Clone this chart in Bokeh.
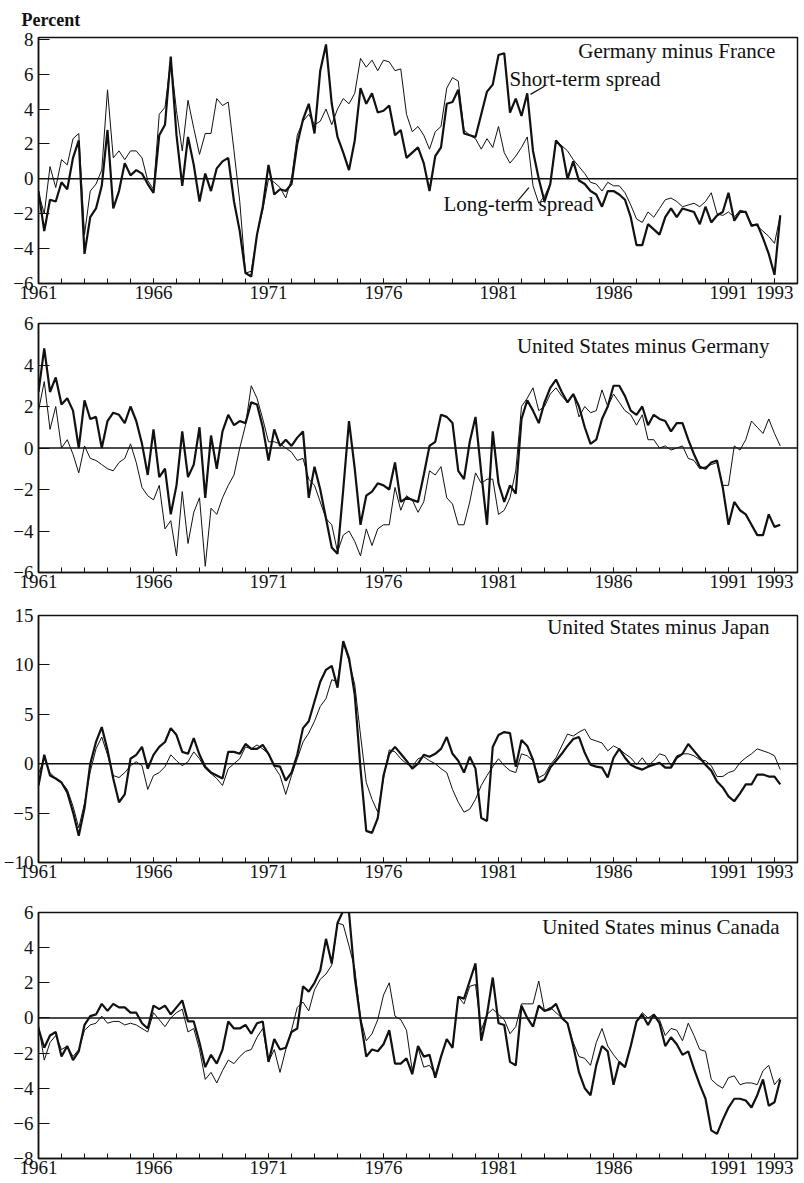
from bokeh.plotting import figure
from bokeh.models import Range1d, FixedTicker, Span, Label
from bokeh.layouts import column
from bokeh.embed import file_html
from bokeh.resources import INLINE

# ---------------- data (quarterly, 1961Q1 .. 1993Q2) ----------------
START_YEAR = 1961
N_QUARTERS = 130
quarters = [START_YEAR + i / 4 for i in range(N_QUARTERS)]

year_ticks = list(range(1961, 1994))
label_years = [1961, 1966, 1971, 1976, 1981, 1986, 1991, 1993]

panel_titles = ["Germany minus France", "United States minus Germany",
                "United States minus Japan", "United States minus Canada"]

ger_fra_short = [
    -0.7, -3.0, -1.2, -1.3, -0.2, -0.6, 1.2, 2.2, -4.3, -2.2,
    -1.7, -0.4, 2.8, -1.7, -0.7, 0.9, 0.2, 0.5, 0.3, -0.3,
    -0.8, 2.5, 3.1, 7.0, 2.5, -0.4, 2.4, 0.8, -1.3, 0.3,
    -0.7, 0.6, 1.0, 1.2, -1.3, -3.0, -5.4, -5.6, -3.2, -1.6,
    0.8, -0.9, -0.6, -0.7, -0.3, 2.0, 3.4, 4.3, 2.6, 6.2,
    7.7, 4.3, 2.4, 1.5, 0.5, 2.2, 5.2, 4.3, 4.9, 3.8,
    3.9, 4.2, 2.5, 2.8, 1.2, 1.5, 1.8, 0.9, -0.7, 1.3,
    1.8, 4.3, 4.4, 5.1, 2.6, 2.5, 2.4, 3.7, 5.0, 5.4,
    7.1, 7.2, 3.8, 4.6, 3.6, 4.9, 1.6, 0.0, -1.3, -0.3,
    2.2, 1.8, 0.0, 1.0, -0.1, -0.3, -0.7, -0.9, -1.6, -0.7,
    -0.7, -0.9, -1.2, -2.2, -3.8, -3.8, -2.6, -2.9, -3.2, -2.2,
    -1.7, -2.2, -1.7, -1.8, -1.9, -2.6, -1.6, -2.5, -2.1, -1.9,
    -0.8, -2.4, -1.9, -1.9, -2.7, -2.6, -3.4, -4.3, -5.5, -2.1,
]
ger_fra_long = [
    -0.8, -2.0, 0.7, -0.5, 1.1, 0.8, 2.3, 2.6, -3.2, -0.7,
    -0.3, 0.5, 5.1, 1.2, 1.6, 1.1, 1.6, 1.6, 1.2, -0.1,
    -0.6, 3.7, 4.1, 6.8, 3.9, 1.6, 4.5, 2.9, 1.4, 2.6,
    2.6, 4.6, 4.2, 4.4, 1.6, -1.3, -5.4, -5.3, -3.2, -1.8,
    0.0, -0.2, -0.5, -1.1, 0.0, 2.5, 3.3, 3.7, 3.1, 3.3,
    4.0, 3.1, 4.0, 4.6, 4.3, 4.9, 6.9, 6.4, 6.8, 6.2,
    6.8, 6.7, 6.2, 6.3, 3.7, 2.7, 3.0, 2.5, 1.7, 2.7,
    3.0, 5.2, 5.8, 5.6, 2.8, 2.5, 2.3, 1.7, 2.3, 1.8,
    3.0, 1.5, 0.9, 1.3, 1.8, 2.4, -0.4, -1.4, -1.0, -0.3,
    2.2, 1.9, 1.6, 1.1, 0.7, 0.3, -0.2, -0.3, -0.7, -0.2,
    -0.4, -0.4, -0.8, -1.5, -2.3, -2.5, -1.9, -2.2, -1.7, -1.2,
    -1.1, -1.3, -1.6, -1.5, -1.4, -1.6, -1.3, -0.8, -2.0, -2.1,
    -1.9, -2.2, -1.8, -1.9, -2.6, -2.7, -3.0, -3.3, -3.7, -2.1,
]

us_ger_short = [
    2.7, 4.8, 2.7, 3.4, 2.1, 2.4, 1.8, 0.0, 2.3, 1.4,
    1.5, 0.0, 1.3, 1.7, 1.6, 1.2, 2.0, 1.3, 0.2, -1.3,
    0.9, -1.4, -1.0, -3.2, -1.8, 0.8, -1.4, -0.8, 1.0, -2.4,
    0.6, -1.0, 0.8, 1.6, 1.1, 1.3, 1.2, 2.2, 2.1, 1.0,
    -0.6, 0.9, 0.1, 0.4, 0.1, 0.5, 0.8, -2.4, -0.9, -2.0,
    -3.4, -4.8, -5.1, -2.0, 1.3, -1.0, -3.7, -2.3, -2.1, -1.7,
    -1.8, -2.0, -0.7, -2.6, -2.4, -2.5, -2.6, -1.3, 0.1, 0.3,
    1.6, 1.5, 1.2, -1.1, -1.5, 0.3, 1.5, -1.2, -3.7, 0.8,
    -1.7, -2.6, -1.8, -2.2, 1.4, 2.3, 1.8, 1.2, 2.2, 2.9,
    3.3, 2.7, 2.2, 2.6, 2.0, 1.0, 0.2, 0.4, 1.4, 2.0,
    3.0, 3.0, 2.5, 1.8, 1.6, 2.0, 1.1, 1.6, 1.4, 1.3,
    0.8, 1.2, 1.2, 0.4, -0.3, -0.9, -1.0, -0.7, -0.6, -1.9,
    -3.7, -2.6, -3.0, -3.2, -3.7, -4.2, -4.2, -3.2, -3.8, -3.7,
]
us_ger_long = [
    1.8, 3.2, 0.9, 2.0, 0.0, 0.4, -0.3, -1.2, 0.1, -0.5,
    -0.6, -0.8, -1.0, -1.1, -0.7, -0.5, 0.2, -0.7, -1.9, -2.3,
    -2.5, -1.8, -3.9, -3.5, -5.2, -2.1, -4.6, -3.1, -2.4, -5.7,
    -2.9, -3.2, -2.4, -1.8, -1.3, 0.0, 1.1, 3.0, 2.4, 1.4,
    0.3, 0.3, 0.2, 0.0, -0.2, -0.6, -0.5, -1.5, -1.8, -2.6,
    -3.4, -3.7, -5.0, -4.2, -4.0, -4.5, -5.2, -3.9, -4.7, -3.9,
    -3.7, -3.7, -1.9, -3.0, -2.3, -2.5, -3.1, -2.6, -1.1, -1.3,
    -0.9, -2.4, -2.7, -3.7, -3.7, -2.6, -1.2, -1.7, -1.5, -1.5,
    -3.2, -3.0, -2.4, -1.1, 2.0, 2.4, 2.9, 1.8, 2.0, 2.6,
    2.9, 2.5, 2.2, 2.6, 1.5, 2.0, 1.7, 1.8, 2.8, 2.0,
    2.6, 2.2, 1.8, 1.6, 1.1, 1.6, 0.4, 0.4, 0.0, 0.1,
    -0.1, 0.0, 0.1, -0.5, -0.6, -1.0, -0.9, -0.8, -0.7, -1.8,
    -1.8, 0.1, -0.1, 0.4, 1.3, 1.0, 0.7, 1.4, 0.7, 0.1,
]

us_jap_short = [
    -2.2, 0.9, -1.2, -1.5, -1.9, -2.9, -4.9, -7.3, -4.5, 0.0,
    2.2, 3.7, 1.4, -1.5, -3.9, -3.1, 0.5, 0.9, 1.7, -0.5,
    0.9, 1.7, 2.2, 3.6, 2.9, 1.2, 1.0, 2.6, 0.9, -0.3,
    -0.9, -1.2, -1.5, 1.2, 1.2, 1.0, 2.0, 1.5, 1.5, 1.9,
    1.0, -0.2, -0.3, -1.7, -0.9, 0.9, 3.6, 4.3, 6.3, 8.3,
    9.5, 9.9, 7.7, 12.4, 10.7, 7.0, -0.5, -6.8, -7.0, -5.5,
    -1.2, 1.0, 1.7, 1.0, 0.3, -0.5, 0.0, 0.9, 0.7, 1.0,
    1.5, 2.7, 1.0, 0.3, -0.9, 0.7, -0.5, -5.5, -5.8, 1.7,
    2.9, 3.2, 3.1, -0.3, 2.4, 1.8, 0.4, -1.9, -1.6, -0.4,
    0.3, 1.0, 1.8, 2.5, 2.7, 1.1, -0.1, -0.3, -0.4, -1.4,
    0.6, 1.5, 0.6, -0.1, -0.4, -0.6, -0.3, -0.1, 0.1, -0.4,
    -0.4, 0.6, 1.0, 2.0, 1.3, 0.6, -0.1, -0.7, -1.8, -2.4,
    -3.3, -3.8, -3.0, -2.1, -2.1, -1.1, -1.1, -1.3, -1.3, -2.1,
]
us_jap_long = [
    -1.0, 0.5, -0.9, -1.5, -1.9, -2.6, -4.3, -6.5, -4.0, -0.8,
    1.5, 2.7, 0.9, -1.2, -1.4, -0.9, -0.2, 0.2, -0.2, -2.6,
    -1.2, -0.9, -0.3, 0.9, 0.3, -0.2, 0.2, 1.2, 0.5, -0.5,
    -1.0, -1.5, -2.2, -0.5, 0.0, 0.5, 1.7, 1.5, 1.9, 1.5,
    1.0, -0.3, -1.2, -3.1, -1.2, 0.5, 2.2, 3.1, 4.3, 5.8,
    6.6, 8.5, 8.3, 12.2, 10.4, 8.0, 2.9, -1.9, -3.6, -4.9,
    -1.5, 1.4, 1.2, 0.5, 0.0, -0.3, 0.5, 0.7, 0.3, 0.0,
    -0.5, -0.9, -2.6, -3.9, -4.9, -4.6, -3.6, -2.2, -1.2, -0.3,
    0.5, -0.2, -0.7, -0.9, 1.0, 0.8, 0.3, -1.4, -1.1, -0.1,
    0.6, 1.8, 3.0, 2.8, 3.2, 3.5, 2.5, 2.3, 2.1, 1.3,
    1.8, 1.5, 1.0, 0.6, -0.1, 0.6, -0.2, 0.3, 1.0, 0.8,
    -0.2, 0.8, 1.0, 1.0, 0.8, 0.4, 0.3, -0.2, -1.3, -1.3,
    -0.9, -0.7, 0.1, 0.6, 1.0, 1.5, 1.3, 1.1, 0.8, -0.6,
]

us_can_short = [
    -0.6, -1.7, -1.0, -0.8, -2.2, -1.6, -2.4, -1.9, -0.4, 0.1,
    0.2, 0.8, 0.4, 0.8, 0.6, 0.6, 0.3, 0.3, -0.3, -0.6,
    0.7, 0.5, 0.7, 0.2, 0.6, 1.0, -0.2, -0.2, -1.4, -2.8,
    -2.1, -2.6, -1.8, -0.2, -0.6, -0.6, -0.4, -0.9, -0.3, -0.2,
    -2.5, -1.2, -1.8, -1.7, -0.8, -0.6, 1.8, 1.5, 2.0, 2.7,
    4.5, 3.1, 5.4, 6.1, 6.0, 2.3, -0.1, -2.2, -1.8, -1.9,
    -1.5, -0.7, -2.6, -2.6, -2.3, -3.2, -1.6, -2.2, -2.1, -3.4,
    -2.2, -1.2, -1.7, 1.2, 1.1, 2.1, 3.1, -1.3, 0.2, 2.3,
    -0.3, -0.4, -2.5, -2.7, 0.7, 0.0, -0.5, 0.7, 0.4, 0.5,
    0.8, 0.0, -0.3, -1.6, -3.1, -4.0, -4.4, -2.7, -1.6, -1.9,
    -3.8, -2.5, -2.8, -1.6, -0.2, 0.2, -0.4, 0.2, -0.3, -1.6,
    -1.1, -1.5, -2.1, -1.9, -2.9, -3.8, -4.6, -6.4, -6.6, -5.8,
    -5.1, -4.6, -4.6, -4.7, -5.1, -4.4, -3.5, -5.0, -4.8, -3.5,
]
us_can_long = [
    -0.4, -2.4, -1.4, -1.0, -1.8, -1.6, -2.2, -1.8, -0.7, -0.4,
    -0.3, 0.1, -0.3, -0.2, -0.2, -0.4, -0.3, -0.4, -0.6, -0.8,
    0.3, -0.1, -0.5, 0.0, 0.3, 0.5, -0.8, -0.6, -1.8, -3.5,
    -3.1, -3.7, -3.0, -2.4, -2.6, -2.2, -1.9, -1.8, -1.1, -0.6,
    -2.5, -1.8, -3.1, -1.8, -0.7, 0.6, 0.9, 0.4, 1.6, 2.2,
    2.5, 3.0, 5.4, 5.3, 4.1, 2.8, 0.0, -1.3, -0.9, -0.1,
    1.3, 2.0, 0.1, -0.1, -0.7, -3.0, -1.7, -2.8, -2.7, -3.2,
    -2.2, -1.2, -1.7, 1.2, 0.8, 1.8, 1.9, -0.7, 0.2, 0.5,
    0.2, -0.1, -0.9, -0.5, 0.8, 0.8, 0.8, 2.1, 0.4, 0.6,
    0.3, 0.0, -0.3, -1.4, -2.2, -2.3, -2.7, -1.4, -0.6, -1.6,
    -2.1, -2.5, -2.8, -1.6, -0.2, 0.3, 0.0, 0.2, -0.1, -1.0,
    -0.6, -0.7, -1.3, -0.3, -1.0, -1.8, -1.9, -3.5, -3.8, -4.0,
    -3.4, -3.3, -3.8, -3.7, -3.7, -3.8, -3.0, -2.7, -3.8, -3.4,
]

# ---------------- styling ----------------
FONT = "Liberation Serif"
INK = "#111111"


def make_panel(short, long_, title_text, y0, y1, yticks, height, b_top, b_bottom,
               tx, ty, head=None):
    p = figure(width=804, height=height,
               x_range=Range1d(1961, 1994), y_range=Range1d(y0, y1),
               output_backend="svg", toolbar_location=None,
               min_border_left=38, min_border_right=7,
               min_border_top=b_top, min_border_bottom=b_bottom,
               title=head)
    p.background_fill_color = "white"
    p.border_fill_color = "white"
    p.outline_line_color = INK
    p.outline_line_width = 1.5
    p.outline_line_alpha = 1.0
    p.xgrid.visible = False
    p.ygrid.visible = False

    xa = p.xaxis[0]
    xa.ticker = FixedTicker(ticks=label_years, minor_ticks=year_ticks)
    xa.major_tick_in = 5
    xa.major_tick_out = 0
    xa.minor_tick_in = 5
    xa.minor_tick_out = 0
    xa.major_tick_line_color = INK
    xa.minor_tick_line_color = INK
    xa.axis_line_color = INK
    xa.axis_line_width = 1.5
    xa.major_label_text_font = FONT
    xa.major_label_text_font_size = "19px"
    xa.major_label_text_color = INK
    xa.major_label_standoff = 2

    ya = p.yaxis[0]
    ya.ticker = FixedTicker(ticks=yticks, minor_ticks=[])
    ya.major_tick_in = 11
    ya.major_tick_out = 0
    ya.major_tick_line_color = INK
    ya.axis_line_color = INK
    ya.axis_line_width = 1.5
    ya.major_label_text_font = FONT
    ya.major_label_text_font_size = "19px"
    ya.major_label_text_color = INK
    ya.major_label_standoff = 5

    p.add_layout(Span(location=0, dimension="width", line_color=INK, line_width=1.5))
    p.line(quarters, long_, line_color=INK, line_width=1.0)
    p.line(quarters, short, line_color=INK, line_width=2.2)

    p.add_layout(Label(x=tx, y=ty, text=title_text, text_align="right",
                       text_baseline="middle", text_font=FONT,
                       text_font_size="21px", text_color=INK))
    return p


p1 = make_panel(ger_fra_short, ger_fra_long, panel_titles[0], -6, 8.1,
                [-6, -4, -2, 0, 2, 4, 6, 8], 310, 36, 27, 1993.04, 7.35, head="Percent")
p1.title.align = "left"
p1.title.offset = -17
p1.title.standoff = 15
p1.title.text_font = FONT
p1.title.text_font_size = "18px"
p1.title.text_font_style = "bold"
p1.title.text_color = INK

p1.add_layout(Label(x=1981.48, y=5.71, text="Short-term spread", text_align="left",
                    text_baseline="middle", text_font=FONT, text_font_size="21px",
                    text_color=INK))
p1.add_layout(Label(x=1978.61, y=-1.43, text="Long-term spread", text_align="left",
                    text_baseline="middle", text_font=FONT, text_font_size="21px",
                    text_color=INK))
p1.segment(x0=[1982.39, 1981.78], y0=[4.84, -1.35], x1=[1983.0, 1982.32],
           y1=[5.31, -0.50], line_color=INK, line_width=1.2)

p2 = make_panel(us_ger_short, us_ger_long, panel_titles[1], -6, 6,
                [-6, -4, -2, 0, 2, 4, 6], 290, 13, 28, 1992.78, 4.9)
p3 = make_panel(us_jap_short, us_jap_long, panel_titles[2], -10, 15,
                [-10, -5, 0, 5, 10, 15], 290, 15, 28, 1992.78, 13.8)
p4 = make_panel(us_can_short, us_can_long, panel_titles[3], -8, 6,
                [-8, -6, -4, -2, 0, 2, 4, 6], 292, 22, 24, 1993.22, 5.2)

layout = column(p1, p2, p3, p4, spacing=0)

with open("out.html", "w") as f:
    f.write(file_html(layout, INLINE))
